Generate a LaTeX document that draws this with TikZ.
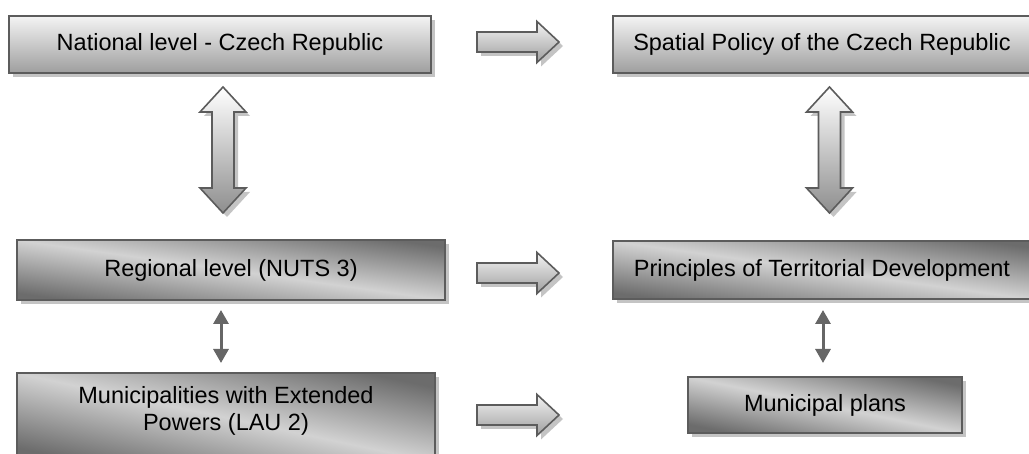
\documentclass[tikz,border=0pt]{standalone}
\usepackage{fontspec}
\setmainfont{Liberation Sans}
\usetikzlibrary{arrows.meta,shadows}

\definecolor{edgegray}{HTML}{5C5C5C}
\definecolor{shadowgray}{HTML}{C4C4C4}
\definecolor{lighttop}{HTML}{F4F4F4}
\definecolor{darkbottom}{HTML}{9E9E9E}
\definecolor{deepgray}{HTML}{6C6C6C}
\definecolor{palegray}{HTML}{D2D2D2}
\definecolor{linkgray}{HTML}{666666}

% light diagonal band between dark corners, one per box proportion
\pgfdeclareverticalshading{bandreg}{100bp}{color(0bp)=(deepgray); color(44.74bp)=(deepgray); color(50bp)=(palegray); color(55.26bp)=(deepgray); color(100bp)=(deepgray)}
\pgfdeclareverticalshading{bandpri}{100bp}{color(0bp)=(deepgray); color(44.91bp)=(deepgray); color(50bp)=(palegray); color(55.09bp)=(deepgray); color(100bp)=(deepgray)}
\pgfdeclareverticalshading{bandmun}{100bp}{color(0bp)=(deepgray); color(42.66bp)=(deepgray); color(50bp)=(palegray); color(57.34bp)=(deepgray); color(100bp)=(deepgray)}
\pgfdeclareverticalshading{bandplans}{100bp}{color(0bp)=(deepgray); color(45.35bp)=(deepgray); color(50bp)=(palegray); color(54.65bp)=(deepgray); color(100bp)=(deepgray)}

\tikzset{
  boxshadow/.style={drop shadow={shadow xshift=4pt, shadow yshift=-4pt, fill=shadowgray, opacity=1}},
  labeltext/.style={font=\fontsize{23.5}{27}\selectfont, align=center, inner sep=0pt},
  levelbox/.style={rectangle, draw=edgegray, line width=1.6pt, inner sep=0pt, outer sep=0pt, labeltext, boxshadow},
  topbox/.style={levelbox, top color=lighttop, bottom color=darkbottom},
  lowbox/.style 2 args={levelbox, fill=deepgray, path picture={
      \shade[shading=#1, shading angle=#2]
        ([shift={(-250,-250)}]path picture bounding box.center) rectangle
        ([shift={(250,250)}]path picture bounding box.center);}},
  blockarrow/.style={draw=edgegray, line width=1.6pt, line join=miter, boxshadow},
  hshade/.style={top color=lighttop, bottom color=darkbottom},
  vshade/.style={top color=white, bottom color=darkbottom!90!black},
  link/.style={draw=linkgray, line width=3pt,
    {Triangle[width=15pt,length=14pt]}-{Triangle[width=15pt,length=14pt]}},
}

% right-pointing block arrow centred on a coordinate
\newcommand\rightblock[1]{%
  \draw[blockarrow, hshade] ([shift={(-41,-10)}]#1) -- ([shift={(19,-10)}]#1)
    -- ([shift={(19,-20.5)}]#1) -- ([shift={(41,0)}]#1) -- ([shift={(19,20.5)}]#1)
    -- ([shift={(19,10)}]#1) -- ([shift={(-41,10)}]#1) -- cycle;}

% vertical double block arrow centred on a coordinate
\newcommand\updownblock[1]{%
  \draw[blockarrow, vshade] ([shift={(0,-63)}]#1) -- ([shift={(23,-38)}]#1)
    -- ([shift={(11,-38)}]#1) -- ([shift={(11,38)}]#1) -- ([shift={(23,38)}]#1)
    -- ([shift={(0,63)}]#1) -- ([shift={(-23,38)}]#1) -- ([shift={(-11,38)}]#1)
    -- ([shift={(-11,-38)}]#1) -- ([shift={(-23,-38)}]#1) -- cycle;}

\begin{document}
\begin{tikzpicture}[x=1pt, y=-1pt]
\useasboundingbox (0,0) rectangle (1029,454);

% national level and its document
\node[topbox, minimum width=422pt, minimum height=57pt] (nat) at (220,44.5) {National level - Czech Republic};
\node[topbox, minimum width=418pt, minimum height=57pt] (spa) at (822,44.5) {Spatial Policy of the Czech Republic};

% regional and local levels with their documents
\node[lowbox={bandreg}{-7.98}, minimum width=428pt, minimum height=60pt] (reg) at (231,270) {Regional level (NUTS 3)};
\node[lowbox={bandpri}{-7.9}, minimum width=418pt, minimum height=58pt] (pri) at (822,270) {Principles of Territorial Development};
\node[lowbox={bandmun}{-12.02}, minimum width=418pt, minimum height=89pt] (mun) at (226,417.5) {};
\node[lowbox={bandplans}{-11.55}, minimum width=274pt, minimum height=56pt] (plans) at (825,405) {Municipal plans};
\node[labeltext] (muntext) at (226,411) {Municipalities with Extended\\Powers (LAU 2)};

% level -> document block arrows
\coordinate (h1) at (518,42);
\coordinate (h2) at (518,273);
\coordinate (h3) at (518,415);
\rightblock{h1}
\rightblock{h2}
\rightblock{h3}

% national <-> regional block arrows
\coordinate (v1) at (223,150);
\coordinate (v2) at (829.5,150);
\updownblock{v1}
\updownblock{v2}

% regional <-> local thin arrows
\coordinate (colL) at (221,0);
\coordinate (colR) at (823,0);
\draw[link, shorten <=10pt, shorten >=10pt] (reg.south -| colL) -- (mun.north -| colL);
\draw[link, shorten <=11pt, shorten >=14pt] (pri.south -| colR) -- (plans.north -| colR);
\end{tikzpicture}
\end{document}
